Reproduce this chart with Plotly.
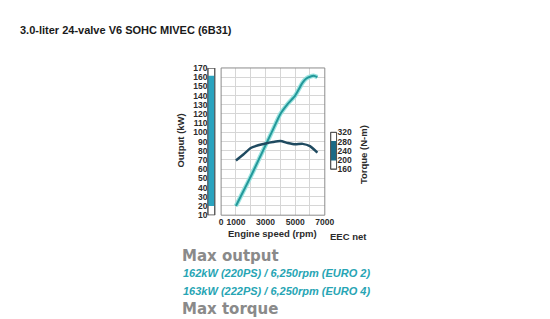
import plotly.graph_objects as go

# ---- data ----
rpm_output = [1000, 1500, 2000, 2500, 3000, 3500, 4000, 4500, 5000, 5500, 5750, 6000, 6250, 6500]
output_kw = [20, 36, 52, 69, 86, 103, 120, 131, 140, 154, 158.5, 160.5, 161.5, 160]

rpm_torque = [1000, 1500, 2000, 2500, 3000, 3500, 4000, 4500, 5000, 5500, 6000, 6500]
torque_nm = [198, 224, 252, 264, 272, 278, 282, 274, 268, 270, 260, 232]

output_ticks = list(range(10, 171, 10))
torque_ticks = [160, 200, 240, 280, 320]
rpm_ticks = [0, 1000, 2000, 3000, 4000, 5000, 6000, 7000]
rpm_ticktext = ["0", "1000", "", "3000", "", "5000", "", "7000"]

title_text = "3.0-liter 24-valve V6 SOHC MIVEC (6B31)"
spec_lines = ["162kW (220PS) / 6,250rpm (EURO 2)", "163kW (222PS) / 6,250rpm (EURO 4)"]

# ---- layout helpers (pixel -> paper) ----
W, H = 550, 319
px = lambda x: x / W
py = lambda y: 1 - y / H

out_range = [10, 170]
# torque axis aligned so that 160 N·m <-> 60 kW and 320 N·m <-> 100 kW
t_of = lambda o: 4 * o - 80
tq_range = [t_of(out_range[0]), t_of(out_range[1])]

TEAL = "#23989a"
TEAL_GLOW = "#9ae3df"
DARK = "#1f4a60"
BAR_TEAL = "#2aa3bf"
BAR_DARK = "#1b6a86"
TXT = "#2b2b2b"

fig = go.Figure()

fig.add_trace(go.Scatter(x=rpm_output, y=output_kw, mode="lines",
                         line=dict(color=TEAL_GLOW, width=4.5, shape="spline", smoothing=0.5),
                         hoverinfo="skip", showlegend=False))
fig.add_trace(go.Scatter(x=rpm_output, y=output_kw, mode="lines",
                         line=dict(color=TEAL, width=2, shape="spline", smoothing=0.5),
                         name="Output", showlegend=False))
fig.add_trace(go.Scatter(x=rpm_torque, y=torque_nm, mode="lines", yaxis="y2",
                         line=dict(color=DARK, width=2.5, shape="spline", smoothing=0.5),
                         name="Torque", showlegend=False))

tickfont = dict(family="Liberation Sans, Arial, sans-serif", size=8.5, color=TXT, weight="bold")

fig.update_layout(
    width=W, height=H,
    margin=dict(l=0, r=0, t=0, b=0),
    paper_bgcolor="white", plot_bgcolor="white",
    xaxis=dict(domain=[px(224), px(330)], range=[0, 7000],
               tickvals=rpm_ticks, ticktext=rpm_ticktext,
               showgrid=True, gridcolor="#d6d6d6", gridwidth=1,
               zeroline=False, showline=False, ticks="",
               tickfont=tickfont, fixedrange=True),
    yaxis=dict(domain=[py(217), py(65)], range=out_range,
               tickvals=output_ticks, anchor="free", position=px(210), side="left",
               showgrid=True, gridcolor="#d6d6d6", gridwidth=1,
               zeroline=False, showline=False, ticks="",
               tickfont=tickfont, fixedrange=True),
    yaxis2=dict(overlaying="y", range=tq_range, tickvals=torque_ticks,
                anchor="free", position=px(342), side="right",
                showgrid=False, zeroline=False, showline=False, ticks="",
                tickfont=tickfont, fixedrange=True),
)

# plot frame
fig.add_shape(type="rect", xref="x domain", yref="y domain", x0=0, x1=1, y0=0, y1=1,
              line=dict(color="#8c8c8c", width=1), fillcolor="rgba(0,0,0,0)", layer="above")

# output range bar (left)
fig.add_shape(type="rect", xref="paper", yref="y", x0=px(210.5), x1=px(217.5),
              y0=out_range[0], y1=out_range[1], line=dict(color="#555", width=1), fillcolor="white")
fig.add_shape(type="rect", xref="paper", yref="y", x0=px(210.5), x1=px(217.5),
              y0=min(output_kw), y1=max(output_kw), line=dict(width=0), fillcolor=BAR_TEAL)
fig.add_shape(type="rect", xref="paper", yref="y", x0=px(210.5), x1=px(217.5),
              y0=out_range[0], y1=out_range[1], line=dict(color="#555", width=1),
              fillcolor="rgba(0,0,0,0)")

# torque range bar (right)
fig.add_shape(type="rect", xref="paper", yref="y2", x0=px(336), x1=px(342),
              y0=min(torque_ticks), y1=max(torque_ticks), line=dict(color="#555", width=1), fillcolor="white")
fig.add_shape(type="rect", xref="paper", yref="y2", x0=px(336), x1=px(342),
              y0=min(torque_nm), y1=max(torque_nm), line=dict(width=0), fillcolor=BAR_DARK)
fig.add_shape(type="rect", xref="paper", yref="y2", x0=px(336), x1=px(342),
              y0=min(torque_ticks), y1=max(torque_ticks), line=dict(color="#555", width=1),
              fillcolor="rgba(0,0,0,0)")

lblfont = dict(family="Liberation Sans, Arial, sans-serif", size=9.5, color=TXT, weight="bold")

def ann(text, x, y, font, xanchor="left", yanchor="middle", angle=0):
    fig.add_annotation(text=text, x=px(x), y=py(y), xref="paper", yref="paper",
                       xanchor=xanchor, yanchor=yanchor, showarrow=False,
                       textangle=angle, font=font)

ann(title_text, 16, 26,
    dict(family="Liberation Sans, Arial, sans-serif", size=11, color="#1a1a1a", weight="bold"))

ann("Output (kW)", 183, 140, lblfont, xanchor="center", angle=-90)
ann("Torque (N-m)", 369, 154, lblfont, xanchor="center", angle=-90)
ann("Engine speed (rpm)", 277, 236, lblfont, xanchor="center")
ann("EEC net", 354, 239, lblfont, xanchor="center")

ann("Max output", 182, 259,
    dict(family="DejaVu Sans, sans-serif", size=15, color="#8a8a8a", weight="bold"))
spec_font = dict(family="Liberation Sans, Arial, sans-serif",
                 size=11, color="#27a5b4", weight="bold", style="italic")
ann(spec_lines[0], 183, 277, spec_font)
ann(spec_lines[1], 183, 295, spec_font)
ann("Max torque", 182, 314,
    dict(family="DejaVu Sans, sans-serif", size=15, color="#8a8a8a", weight="bold"))

fig.write_html("out.html")
